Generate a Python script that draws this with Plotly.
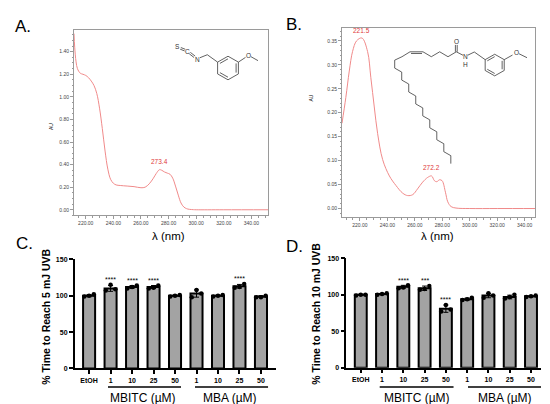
import math
import plotly.graph_objects as go

W, H = 550, 404
FONT = "Arial, Liberation Sans, sans-serif"

# --- UV spectra ---
a_wl = [211.5, 212, 213, 214, 216, 218, 220, 222, 224, 226, 228, 230, 232, 234,
        236, 238, 240, 242, 245, 250, 255, 260, 263, 266, 269, 271, 273.4, 275,
        277, 279, 281, 283, 285, 287, 289, 291, 293, 295, 298, 300, 320, 352]
a_au = [1.56, 1.44, 1.31, 1.25, 1.21, 1.20, 1.19, 1.17, 1.14, 1.10, 1.03, 0.90,
        0.72, 0.52, 0.36, 0.27, 0.235, 0.22, 0.215, 0.21, 0.205, 0.195, 0.20,
        0.23, 0.28, 0.32, 0.355, 0.35, 0.335, 0.325, 0.315, 0.28, 0.21, 0.13,
        0.06, 0.025, 0.01, 0.004, 0.001, 0.0, 0.0, 0.0]
a_peak = "273.4"

b_wl = [207, 209.8, 212.3, 214.7, 217.6, 221.5, 225.6, 228, 230.5, 232.9, 236.6,
        241.5, 246.3, 251.2, 254.8, 258.5, 262, 265.7, 269.4, 272.2, 274.3, 276,
        278, 279.9, 282.3, 284, 286.4, 290, 300, 320, 348]
b_au = [0.178, 0.232, 0.287, 0.328, 0.35, 0.356, 0.328, 0.273, 0.212, 0.157,
        0.102, 0.068, 0.048, 0.032, 0.027, 0.029, 0.041, 0.055, 0.065, 0.068,
        0.058, 0.056, 0.06, 0.058, 0.034, 0.014, 0.004, 0.001, 0.0, 0.0, 0.0]
b_peaks = ["221.5", "272.2"]

# --- UVB bar charts ---
groups = ["EtOH", "1", "10", "25", "50", "1", "10", "25", "50"]

c_mean = [100, 110, 112, 112, 100, 103, 100, 113, 99]
c_sd = [1.5, 4, 2, 2, 1, 5, 1, 2.5, 1]
c_pts = [[99, 100, 102], [107, 115, 109], [110, 112, 114], [110, 111, 114],
         [99, 100, 101], [98, 108, 103], [99, 100, 101], [111, 112, 116],
         [98, 98, 100]]
c_stars = ["", "****", "****", "****", "", "", "", "****", ""]

d_mean = [100, 101, 111, 109, 81, 94, 99, 97, 98]
d_sd = [0.8, 1, 2, 3, 5, 1.5, 3, 2.5, 1]
d_pts = [[99, 100, 100], [100, 101, 102], [109, 110, 113], [107, 108, 112],
         [77, 86, 80], [93, 94, 96], [96, 102, 99], [95, 97, 100], [97, 98, 99]]
d_stars = ["", "", "****", "***", "****", "", "", "", ""]


def px(x):
    return x / W


def py(y):
    return 1 - y / H


fig = go.Figure()
red = "#f08a8a"

fig.add_trace(go.Scatter(x=a_wl, y=a_au, mode="lines", line=dict(color=red, width=1, shape="spline"),
                         xaxis="x", yaxis="y", showlegend=False))
fig.add_trace(go.Scatter(x=b_wl, y=b_au, mode="lines", line=dict(color=red, width=1, shape="spline"),
                         xaxis="x2", yaxis="y2", showlegend=False))

pos = list(range(len(groups)))
jitter = [-0.22, 0, 0.22]
for mean, sd, pts, ax in [(c_mean, c_sd, c_pts, "3"), (d_mean, d_sd, d_pts, "4")]:
    fig.add_trace(go.Bar(x=pos, y=mean, width=0.56, marker=dict(color="#a3a3a3", line=dict(color="black", width=2)),
                         error_y=dict(type="data", array=sd, color="black", thickness=1, width=2.5),
                         xaxis="x" + ax, yaxis="y" + ax, showlegend=False))
    xs, ys = [], []
    for i, p in enumerate(pts):
        for j, v in enumerate(p):
            xs.append(i + jitter[j])
            ys.append(v)
    fig.add_trace(go.Scatter(x=xs, y=ys, mode="markers", marker=dict(color="black", size=4.5),
                             xaxis="x" + ax, yaxis="y" + ax, showlegend=False))

spec_ax = dict(showline=True, linecolor="#9a9a9a", linewidth=0.8, mirror=True, ticks="outside",
               ticklen=3, tickcolor="#9a9a9a", tickfont=dict(size=5, color="#444", family=FONT),
               showgrid=False, zeroline=False, tickformat=".2f",
               minor=dict(ticks="outside", ticklen=1.5, tickcolor="#9a9a9a", nticks=5))
bar_x = dict(showline=True, linecolor="black", linewidth=1.5, ticks="outside", ticklen=4,
             tickwidth=1.5, tickcolor="black", tickvals=pos, ticktext=groups,
             tickfont=dict(size=7, color="black", family=FONT, weight="bold"),
             showgrid=False, zeroline=False)
bar_y = dict(showline=True, linecolor="black", linewidth=1.5, ticks="outside", ticklen=4,
             tickwidth=1.5, tickcolor="black", range=[0, 150], tickvals=[0, 50, 100, 150],
             tickfont=dict(size=7, color="black", family=FONT, weight="bold"),
             showgrid=False, zeroline=False)

fig.update_layout(
    width=W, height=H, margin=dict(l=0, r=0, t=0, b=0), plot_bgcolor="white", paper_bgcolor="white",
    font=dict(family=FONT), bargap=0.4,
    xaxis=dict(spec_ax, domain=[px(66), px(260)], range=[211.5, 352], dtick=20, tick0=0),
    yaxis=dict(spec_ax, domain=[py(207), py(18)], range=[-0.05, 1.595], dtick=0.2, tick0=0),
    xaxis2=dict(spec_ax, domain=[px(334), px(527)], range=[207, 347.5], dtick=20, tick0=0),
    yaxis2=dict(spec_ax, domain=[py(209), py(16.7)], range=[-0.0185, 0.376], dtick=0.05, tick0=0),
    xaxis3=dict(bar_x, domain=[px(66.7), px(268)], range=[-0.67, 8.7]),
    yaxis3=dict(bar_y, domain=[py(362.7), py(251.7)], anchor="x3"),
    xaxis4=dict(bar_x, domain=[px(338.3), px(533)], range=[-0.68, 8.47]),
    yaxis4=dict(bar_y, domain=[py(362), py(250.7)], anchor="x4"),
)
fig.update_layout(xaxis3_anchor="y3", xaxis4_anchor="y4", xaxis2_anchor="y2", yaxis2_anchor="x2")

ann = []


def text(x, y, s, size, color="black", angle=0, weight="normal", xanchor="center"):
    ann.append(dict(x=px(x), y=py(y), xref="paper", yref="paper", text=s, showarrow=False,
                    font=dict(size=size, color=color, family=FONT, weight=weight),
                    textangle=angle, xanchor=xanchor, yanchor="middle"))


# panel letters and axis titles
text(5, 15, "A.", 17, xanchor="left")
text(276, 13, "B.", 17, xanchor="left")
text(6, 236, "C.", 17, xanchor="left")
text(276, 239, "D.", 17, xanchor="left")
text(43, 117, "AU", 5, angle=-90)
text(303, 88, "AU", 5, angle=-90)
text(160.7, 228, "λ (nm)", 11.5)
text(429, 228, "λ (nm)", 11.5)
text(38, 310, "% Time to Reach 5 mJ UVB", 10.5, angle=-90, weight="bold")
text(308, 307, "% Time to Reach 10 mJ UVB", 10.5, angle=-90, weight="bold")
text(135, 393, "MBITC (µM)", 12)
text(222, 393, "MBA (µM)", 12)
text(409, 393, "MBITC (µM)", 12)
text(497, 393, "MBA (µM)", 12)

# peak labels
ann.append(dict(x=float(a_peak), y=a_au[a_wl.index(float(a_peak))], xref="x", yref="y", text=a_peak,
                showarrow=False, yshift=8, font=dict(size=6.5, color="#e03a3a", family=FONT)))
for pk, ys in zip(b_peaks, [7, 8]):
    ann.append(dict(x=float(pk), y=b_au[b_wl.index(float(pk))], xref="x2", yref="y2", text=pk,
                    showarrow=False, yshift=ys, font=dict(size=6.5, color="#e03a3a", family=FONT)))

# significance stars
for stars, pts, ax in [(c_stars, c_pts, "3"), (d_stars, d_pts, "4")]:
    for i, s in enumerate(stars):
        if s:
            ann.append(dict(x=i, y=max(pts[i]) + 7, xref="x" + ax, yref="y" + ax, text=s, showarrow=False,
                            font=dict(size=7, color="black", family=FONT), yanchor="middle"))

shapes = []


def seg(x0, y0, x1, y1, color="#3a3a3a", width=0.8):
    shapes.append(dict(type="line", xref="paper", yref="paper", x0=px(x0), y0=py(y0), x1=px(x1), y1=py(y1),
                       line=dict(color=color, width=width)))


def dbl(x0, y0, x1, y1, d=0.9):
    L = math.hypot(x1 - x0, y1 - y0)
    nx, ny = -(y1 - y0) / L * d, (x1 - x0) / L * d
    seg(x0 + nx, y0 + ny, x1 + nx, y1 + ny)
    seg(x0 - nx, y0 - ny, x1 - nx, y1 - ny)


def ring(cx, cy, r):
    v = [(cx + r * math.cos(math.radians(a)), cy - r * math.sin(math.radians(a)))
         for a in [90, 30, -30, -90, -150, 150]]
    for k in range(6):
        seg(*v[k], *v[(k + 1) % 6])
    for k in [1, 3, 5]:
        p, q = v[k], v[(k + 1) % 6]
        f = 0.78
        seg(cx + (p[0] - cx) * f, cy + (p[1] - cy) * f, cx + (q[0] - cx) * f, cy + (q[1] - cy) * f)
    return v


# structure A: 3-methoxybenzyl isothiocyanate
va = ring(220, 57, 12)
dbl(172.5, 37, 177, 38.8)
dbl(181.8, 41.8, 186.6, 45.6)
seg(192, 46.5, 199.3, 43.5)
seg(199.3, 43.5, *va[5])
seg(*va[1], 237.5, 46.2)
seg(243, 45.5, 250, 49.5)
text(169.5, 35.5, "S", 6.5, color="#333")
text(179.5, 40, "C", 6.5, color="#333")
text(189.5, 48, "N", 6.5, color="#333")
text(240.5, 44, "O", 6.5, color="#333")

# structure B: N-(3-methoxybenzyl)oleamide
vb = ring(486.7, 54, 11)
dbl(448.3, 40.5, 448.3, 33.5)
seg(448.3, 40.5, 455, 44)
seg(459.7, 44, 466.3, 40.7)
seg(466.3, 40.7, *vb[5])
seg(*vb[1], 504.5, 43.8)
seg(511, 42.5, 519, 46.5)
text(448.3, 30, "O", 6.5, color="#333")
text(457.3, 45.5, "N", 6.5, color="#333")
text(457.3, 53.5, "H", 6.5, color="#333")
text(508.3, 41, "O", 6.5, color="#333")
top = [(448.3, 40.5), (440, 45.5), (431.7, 40.5), (423.3, 45.5), (415, 40.5),
       (402, 40.5), (394, 45.5), (386.7, 49)]
for k in range(len(top) - 1):
    seg(*top[k], *top[k + 1])
seg(414, 42.2, 403, 42.2)
Lb = 8.1
x, y = top[-1]
for k in range(16):
    if k % 2 == 0:
        nx_, ny_ = x, y + Lb
    else:
        nx_, ny_ = x + 0.866 * Lb, y + 0.5 * Lb
    seg(x, y, nx_, ny_)
    x, y = nx_, ny_
seg(x, y, x, y + Lb)

# group underlines for bar charts
for ax, y0, spans in [("x3", 381.7, [(0.88, 4.28), (4.93, 8.33)]), ("x4", 381.7, [(0.89, 4.36), (5.04, 8.5)])]:
    for a, b in spans:
        shapes.append(dict(type="line", xref=ax, yref="paper", x0=a, x1=b, y0=py(y0), y1=py(y0),
                           line=dict(color="black", width=1.5)))

fig.update_layout(annotations=ann, shapes=shapes)
fig.write_html("out.html")
